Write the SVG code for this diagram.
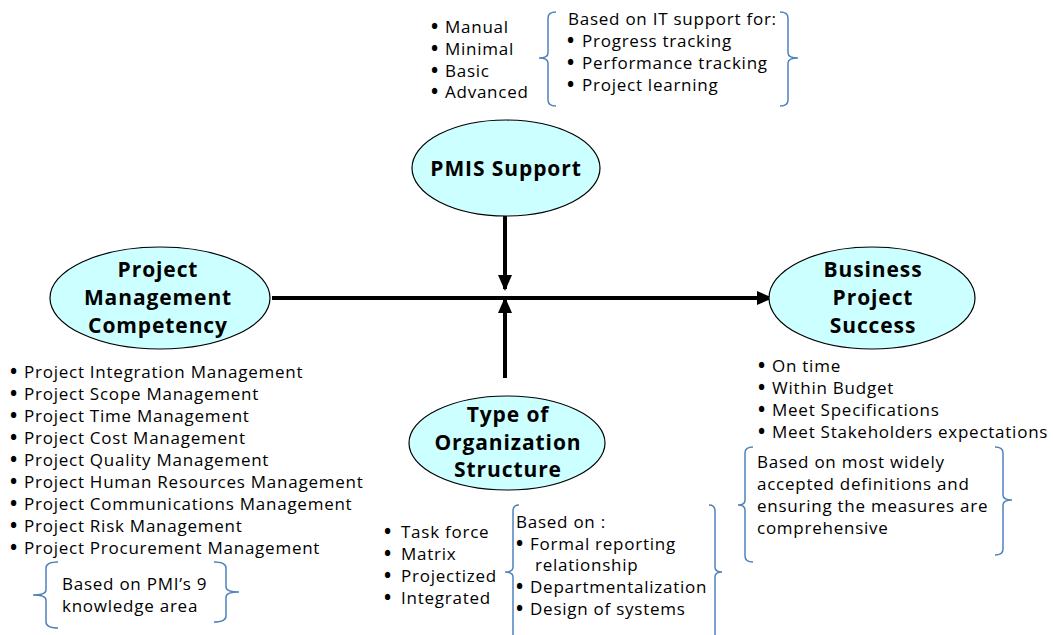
<svg xmlns="http://www.w3.org/2000/svg" width="1053" height="635" viewBox="0 0 1053 635">
<defs>
<style>
.node{fill:#ccffff;stroke:#000;stroke-width:1.2}
.lbl{font-family:"Open Sans","Liberation Sans",sans-serif;font-weight:bold;font-size:21px;letter-spacing:0.9px;fill:#000;text-anchor:middle}
.t{font-family:"Open Sans","Liberation Sans",sans-serif;font-size:17px;letter-spacing:0.75px;fill:#000}
.b{font-size:19px;font-weight:bold}
.br{fill:none;stroke:#4f81bd;stroke-width:1.5}
.conn{stroke:#000;stroke-width:4;fill:none}
</style>
<marker id="ah" markerUnits="userSpaceOnUse" markerWidth="16" markerHeight="16" viewBox="0 0 16 16" refX="14" refY="8" orient="auto">
<path d="M0,1 L16,8 L0,15 Z" fill="#000"/>
</marker>
</defs>
<rect width="1053" height="635" fill="#fff"/>

<g id="connectors">
<line class="conn" x1="272" y1="298" x2="771" y2="298" marker-end="url(#ah)"/>
<line class="conn" x1="505" y1="216" x2="505" y2="289" marker-end="url(#ah)"/>
<line class="conn" x1="505" y1="378" x2="505" y2="299" marker-end="url(#ah)"/>
</g>

<g id="pmis">
<ellipse class="node" cx="506" cy="168" rx="94" ry="48"/>
<text class="lbl" x="506" y="176">PMIS Support</text>
</g>

<g id="pmc">
<ellipse class="node" cx="160" cy="298" rx="110" ry="51"/>
<text class="lbl" x="158" y="277">Project</text>
<text class="lbl" x="158" y="305">Management</text>
<text class="lbl" x="158" y="333">Competency</text>
</g>

<g id="bps">
<ellipse class="node" cx="872" cy="298" rx="103" ry="51"/>
<text class="lbl" x="873" y="277">Business</text>
<text class="lbl" x="873" y="305">Project</text>
<text class="lbl" x="873" y="333">Success</text>
</g>

<g id="tos">
<ellipse class="node" cx="507" cy="443" rx="98" ry="47"/>
<text class="lbl" x="508" y="422">Type of</text>
<text class="lbl" x="508" y="450">Organization</text>
<text class="lbl" x="508" y="477">Structure</text>
</g>

<g id="pmis-notes">
<text class="t" y="33"><tspan class="b" x="431">•</tspan><tspan x="445">Manual</tspan></text>
<text class="t" y="55"><tspan class="b" x="431">•</tspan><tspan x="445">Minimal</tspan></text>
<text class="t" y="77"><tspan class="b" x="431">•</tspan><tspan x="445">Basic</tspan></text>
<text class="t" y="98"><tspan class="b" x="431">•</tspan><tspan x="445">Advanced</tspan></text>
<path class="br" d="M556,12 Q548,12 548,18 L548,53 Q548,58 539,58 Q548,58 548,63 L548,100 Q548,106 556,106"/>
<path class="br" d="M780,12 Q788,12 788,18 L788,53 Q788,58 798,58 Q788,58 788,63 L788,100 Q788,106 780,106"/>
<text class="t" x="568" y="25">Based on IT support for:</text>
<text class="t" y="47"><tspan class="b" x="567">•</tspan><tspan x="582">Progress tracking</tspan></text>
<text class="t" y="69"><tspan class="b" x="567">•</tspan><tspan x="582">Performance tracking</tspan></text>
<text class="t" y="91"><tspan class="b" x="567">•</tspan><tspan x="582">Project learning</tspan></text>
</g>

<g id="pmc-notes">
<text class="t" y="378"><tspan class="b" x="10">•</tspan><tspan x="24">Project Integration Management</tspan></text>
<text class="t" y="400"><tspan class="b" x="10">•</tspan><tspan x="24">Project Scope Management</tspan></text>
<text class="t" y="422"><tspan class="b" x="10">•</tspan><tspan x="24">Project Time Management</tspan></text>
<text class="t" y="444"><tspan class="b" x="10">•</tspan><tspan x="24">Project Cost Management</tspan></text>
<text class="t" y="466"><tspan class="b" x="10">•</tspan><tspan x="24">Project Quality Management</tspan></text>
<text class="t" y="488"><tspan class="b" x="10">•</tspan><tspan x="24">Project Human Resources Management</tspan></text>
<text class="t" y="510"><tspan class="b" x="10">•</tspan><tspan x="24">Project Communications Management</tspan></text>
<text class="t" y="532"><tspan class="b" x="10">•</tspan><tspan x="24">Project Risk Management</tspan></text>
<text class="t" y="554"><tspan class="b" x="10">•</tspan><tspan x="24">Project Procurement Management</tspan></text>
<path class="br" d="M58,562 Q46,562 46,568 L46,590 Q46,595 33,595 Q46,595 46,600 L46,622 Q46,628 58,628"/>
<path class="br" d="M214,562 Q226,562 226,568 L226,587 Q226,592 239,592 Q226,592 226,597 L226,616 Q226,622 214,622"/>
<text class="t" x="62" y="590">Based on PMI’s 9</text>
<text class="t" x="62" y="612">knowledge area</text>
</g>

<g id="tos-notes">
<text class="t" y="538"><tspan class="b" x="384">•</tspan><tspan x="401">Task force</tspan></text>
<text class="t" y="560"><tspan class="b" x="384">•</tspan><tspan x="401">Matrix</tspan></text>
<text class="t" y="582"><tspan class="b" x="384">•</tspan><tspan x="401">Projectized</tspan></text>
<text class="t" y="604"><tspan class="b" x="384">•</tspan><tspan x="401">Integrated</tspan></text>
<path class="br" d="M519,505 Q513,505 513,511 L513,567 Q513,572 505,572 Q513,572 513,577 L513,635"/>
<path class="br" d="M709,505 Q715,505 715,511 L715,567 Q715,572 722,572 Q715,572 715,577 L715,635"/>
<text class="t" x="516" y="528">Based on :</text>
<text class="t" y="550"><tspan class="b" x="516">•</tspan><tspan x="530">Formal reporting</tspan></text>
<text class="t" x="535" y="571">relationship</text>
<text class="t" y="593"><tspan class="b" x="516">•</tspan><tspan x="530">Departmentalization</tspan></text>
<text class="t" y="615"><tspan class="b" x="516">•</tspan><tspan x="530">Design of systems</tspan></text>
</g>

<g id="bps-notes">
<text class="t" y="372"><tspan class="b" x="758">•</tspan><tspan x="772">On time</tspan></text>
<text class="t" y="394"><tspan class="b" x="758">•</tspan><tspan x="772">Within Budget</tspan></text>
<text class="t" y="416"><tspan class="b" x="758">•</tspan><tspan x="772">Meet Specifications</tspan></text>
<text class="t" y="438"><tspan class="b" x="758">•</tspan><tspan x="772">Meet Stakeholders expectations</tspan></text>
<path class="br" d="M753,447 Q745,447 745,453 L745,500 Q745,505 738,505 Q745,505 745,510 L745,556 Q745,562 753,562"/>
<path class="br" d="M995,447 Q1003,447 1003,453 L1003,495 Q1003,500 1012,500 Q1003,500 1003,505 L1003,549 Q1003,555 995,555"/>
<text class="t" x="757" y="468">Based on most widely</text>
<text class="t" x="757" y="490">accepted definitions  and</text>
<text class="t" x="757" y="512">ensuring the measures are</text>
<text class="t" x="757" y="534">comprehensive</text>
</g>
</svg>
